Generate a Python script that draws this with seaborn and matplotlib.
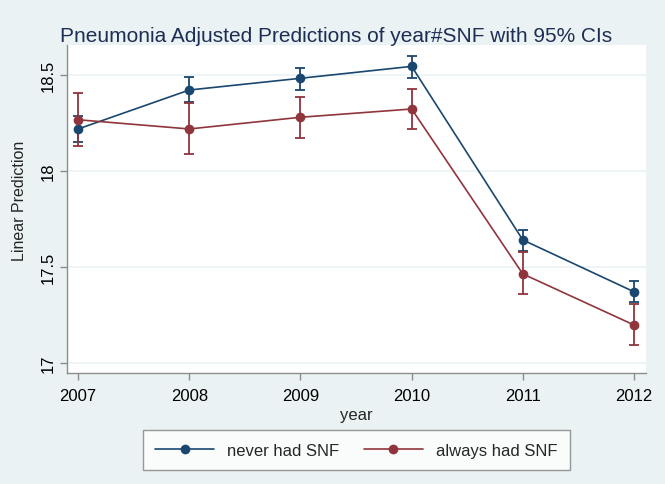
import numpy as np
import pandas as pd
import matplotlib
matplotlib.use("Agg")
import matplotlib.pyplot as plt
import seaborn as sns

# =========================
# Data
# =========================
years = [2007, 2008, 2009, 2010, 2011, 2012]
groups = ["never had SNF", "always had SNF"]

never_pred = [18.219, 18.422, 18.483, 18.545, 17.641, 17.371]
never_lo = [18.153, 18.358, 18.424, 18.486, 17.583, 17.316]
never_hi = [18.285, 18.488, 18.536, 18.601, 17.693, 17.427]

always_pred = [18.267, 18.219, 18.280, 18.323, 17.464, 17.198]
always_lo = [18.132, 18.089, 18.172, 18.217, 17.359, 17.094]
always_hi = [18.405, 18.353, 18.385, 18.427, 17.577, 17.307]

y_ticks = [17, 17.5, 18, 18.5]
y_tick_labels = ["17", "17.5", "18", "18.5"]

colors = {"never had SNF": "#1a476f", "always had SNF": "#90353b"}
bg = "#eaf2f3"

df = pd.DataFrame({
    "year": years * 2,
    "pred": never_pred + always_pred,
    "lo": never_lo + always_lo,
    "hi": never_hi + always_hi,
    "group": [groups[0]] * len(years) + [groups[1]] * len(years),
})

sns.set_theme(style="white")
plt.rcParams["font.family"] = ["Liberation Sans", "DejaVu Sans"]

fig = plt.figure(figsize=(6.65, 4.85), dpi=100, facecolor=bg)
ax = fig.add_axes([0.1008, 0.2289, 0.8706, 0.6761])
ax.set_facecolor("white")

# CIs first so lines/markers sit on top
for g in groups:
    sub = df[df["group"] == g]
    ax.errorbar(sub["year"], sub["pred"],
                yerr=[sub["pred"] - sub["lo"], sub["hi"] - sub["pred"]],
                fmt="none", ecolor=colors[g], elinewidth=1.3,
                capsize=3.5, capthick=1.3, zorder=2)

sns.lineplot(data=df, x="year", y="pred", hue="group", hue_order=groups,
             palette=colors, marker="o", markersize=7, markeredgewidth=0,
             linewidth=1.2, ax=ax, zorder=3)

# =========================
# Axes styling (Stata-like)
# =========================
ax.set_xlim(2006.90, 2012.108)
ax.set_ylim(16.948, 18.656)
ax.set_xticks(years)
ax.set_xticklabels([str(y) for y in years], fontsize=12)
ax.set_yticks(y_ticks)
ax.set_yticklabels(y_tick_labels, fontsize=12, rotation=90, va="center")
ax.grid(axis="y", color=bg, linewidth=1.2)
ax.grid(axis="x", visible=False)
ax.set_axisbelow(True)

for s in ["top", "right"]:
    ax.spines[s].set_visible(False)
for s in ["left", "bottom"]:
    ax.spines[s].set_color("#8c8c8c")
    ax.spines[s].set_linewidth(1.0)
ax.tick_params(axis="both", direction="out", length=5, width=1.0,
               color="#8c8c8c", labelcolor="black", pad=3,
               left=True, bottom=True)
ax.tick_params(axis="x", pad=6)

ax.set_xlabel("year", fontsize=12, labelpad=3)
ax.set_ylabel("Linear Prediction", fontsize=11.5)
ax.yaxis.set_label_coords(-0.069, 0.527)

fig.suptitle("Pneumonia Adjusted Predictions of year#SNF with 95% CIs",
             x=0.506, y=0.945, fontsize=15, color="#1e2d53")

ax.get_legend().remove()
handles = [plt.Line2D([], [], color=colors[g], marker="o", markersize=7,
                      markeredgewidth=0, linewidth=1.2) for g in groups]
leg = fig.legend(handles, groups, loc="center", bbox_to_anchor=(0.536, 0.070),
                 ncol=2, fontsize=12, frameon=True, fancybox=False,
                 handlelength=3.5, columnspacing=1.5, borderpad=0.75)
leg.get_frame().set_edgecolor("#7f7f7f")
leg.get_frame().set_linewidth(1.0)
leg.get_frame().set_facecolor("white")

plt.savefig("out.png", dpi=100, facecolor=bg)
